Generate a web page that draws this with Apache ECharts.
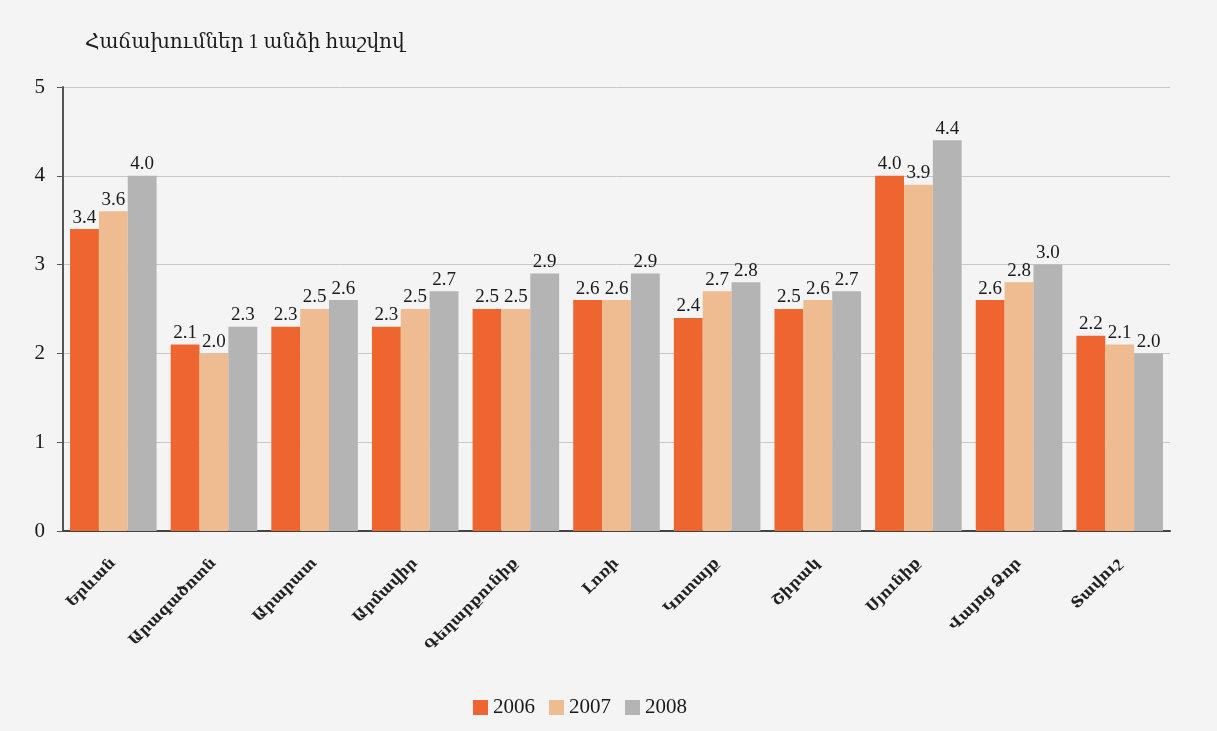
<!DOCTYPE html>
<html>
<head>
<meta charset="utf-8">
<script src="https://cdn.jsdelivr.net/npm/echarts@6/dist/echarts.min.js"></script>
<style>
  html, body { margin: 0; padding: 0; background: #f4f4f4; }
  #chart { width: 1217px; height: 731px; }
</style>
</head>
<body>
<div id="chart"></div>
<script>
const regions = ["Երևան", "Արագածոտն", "Արարատ", "Արմավիր", "Գեղարքունիք", "Լոռի", "Կոտայք", "Շիրակ", "Սյունիք", "Վայոց Ձոր", "Տավուշ"];
const years = ["2006", "2007", "2008"];
const v2006 = [3.4, 2.1, 2.3, 2.3, 2.5, 2.6, 2.4, 2.5, 4.0, 2.6, 2.2];
const v2007 = [3.6, 2.0, 2.5, 2.5, 2.5, 2.6, 2.7, 2.6, 3.9, 2.8, 2.1];
const v2008 = [4.0, 2.3, 2.6, 2.7, 2.9, 2.9, 2.8, 2.7, 4.4, 3.0, 2.0];
const yTicks = [0, 1, 2, 3, 4, 5];

const serif = "'Liberation Serif', 'DejaVu Serif', serif";
const chart = echarts.init(document.getElementById("chart"));

const mkSeries = (name, data) => ({
  name: name,
  type: "bar",
  data: data,
  barGap: "0%",
  barCategoryGap: "14%",
  label: {
    show: true,
    position: "top",
    distance: 2,
    color: "#1a1a1a",
    fontFamily: serif,
    fontSize: 19,
    formatter: p => p.value.toFixed(1),
  },
});

chart.setOption({
  backgroundColor: "#f4f4f4",
  color: ["#ef6530", "#efbb90", "#b4b4b4"],
  title: {
    text: "Հաճախումներ 1 անձի հաշվով",
    left: 80,
    top: 28,
    textStyle: { fontFamily: serif, fontSize: 20, fontWeight: "normal", color: "#1a1a1a" },
  },
  legend: {
    bottom: 8,
    left: 468,
    itemWidth: 15,
    itemHeight: 15,
    itemGap: 14,
    icon: "rect",
    textStyle: { fontFamily: serif, fontSize: 21, color: "#1a1a1a" },
    data: years,
  },
  grid: { left: 63, right: 47, top: 87, bottom: 200 },
  xAxis: {
    type: "category",
    data: regions,
    axisLine: { lineStyle: { color: "#444", width: 2 } },
    axisTick: { show: false },
    axisLabel: {
      rotate: 45,
      margin: 30,
      color: "#222",
      fontFamily: serif,
      fontSize: 15,
      fontWeight: "bold",
      interval: 0,
    },
  },
  yAxis: {
    type: "value",
    min: yTicks[0],
    max: yTicks[yTicks.length - 1],
    interval: 1,
    axisLine: { show: true, lineStyle: { color: "#555", width: 2 } },
    axisTick: { show: true, length: 6, lineStyle: { color: "#555" } },
    axisLabel: { color: "#1a1a1a", fontFamily: serif, fontSize: 21, margin: 18 },
    splitLine: { lineStyle: { color: "#c8c8c8" } },
  },
  series: [mkSeries(years[0], v2006), mkSeries(years[1], v2007), mkSeries(years[2], v2008)],
});
</script>
</body>
</html>
